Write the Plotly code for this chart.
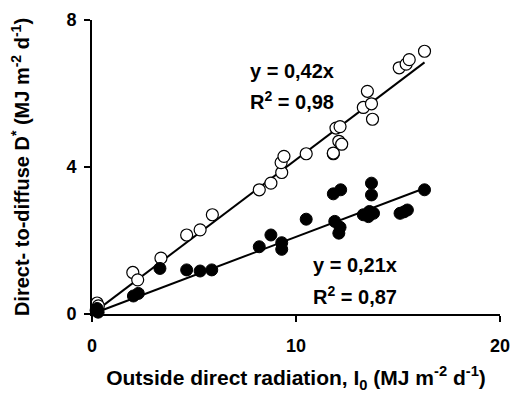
import plotly.graph_objects as go

# Open circles (upper series)
open_x = [0.25, 0.31, 2.0, 2.24, 3.38, 4.64, 5.3, 5.9, 8.2, 8.77, 9.3, 9.27, 9.41, 10.5,
          11.83, 11.83, 11.96, 12.16, 12.1, 12.24, 13.3, 13.5, 13.7, 13.75, 15.06, 15.4, 15.55, 16.3]
open_y = [0.3, 0.22, 1.13, 0.93, 1.52, 2.15, 2.29, 2.7, 3.38, 3.56, 3.85, 4.12, 4.29, 4.36,
          4.36, 4.38, 5.06, 5.1, 4.7, 4.62, 5.62, 6.06, 5.72, 5.3, 6.7, 6.8, 6.92, 7.15]

# Filled circles (lower series)
filled_x = [0.2, 0.3, 0.25, 2.03, 2.27, 3.33, 4.64, 5.3, 5.87, 8.2, 8.77, 9.3, 9.3, 10.5,
            11.83, 12.19, 11.9, 12.16, 12.1, 13.3, 13.55, 13.6, 13.8, 13.7, 13.7, 15.1, 15.3, 15.46, 16.3]
filled_y = [0.1, 0.05, 0.15, 0.49, 0.56, 1.24, 1.2, 1.17, 1.2, 1.83, 2.15, 1.94, 1.76, 2.58,
            3.27, 3.38, 2.52, 2.36, 2.2, 2.7, 2.65, 2.79, 2.74, 3.24, 3.56, 2.74, 2.78, 2.83, 3.38]

slope_open = 0.42
slope_filled = 0.21
fit_x = [0.2, 16.3]

x_ticks = [0, 10, 20]
y_ticks = [0, 4, 8]

FONT = "Liberation Sans, Arial, sans-serif"

fig = go.Figure()
fig.add_trace(go.Scatter(x=fit_x, y=[slope_open * v for v in fit_x], mode="lines",
                         line=dict(color="black", width=2), showlegend=False, hoverinfo="skip"))
fig.add_trace(go.Scatter(x=fit_x, y=[slope_filled * v for v in fit_x], mode="lines",
                         line=dict(color="black", width=2), showlegend=False, hoverinfo="skip"))
fig.add_trace(go.Scatter(x=open_x, y=open_y, mode="markers", cliponaxis=False,
                         marker=dict(symbol="circle", size=12, color="white",
                                     line=dict(color="black", width=1.2)),
                         showlegend=False))
fig.add_trace(go.Scatter(x=filled_x, y=filled_y, mode="markers", cliponaxis=False,
                         marker=dict(symbol="circle", size=12, color="black",
                                     line=dict(color="black", width=1)),
                         showlegend=False))

L, R, T, B = 92, 16, 20, 80
W, H = 516, 394
pw, ph = W - L - R, H - T - B


def px2x(px):
    return (px - L) / pw * 20


def py2y(py):
    return (H - B - py) / ph * 8


ann_font = dict(family=FONT, size=20, color="black", weight="bold")
ann_text = ["y = 0,42x", "R<sup>2</sup> = 0,98", "y = 0,21x", "R<sup>2</sup> = 0,87"]
ann_px = [(292, 71), (292, 100), (355, 265), (355, 295)]
for t, (px, py) in zip(ann_text, ann_px):
    fig.add_annotation(x=px2x(px), y=py2y(py), text=t, showarrow=False, font=ann_font)

fig.update_layout(
    width=W, height=H,
    margin=dict(l=L, r=R, t=T, b=B),
    plot_bgcolor="white", paper_bgcolor="white",
    font=dict(family=FONT, size=18, color="black", weight="bold"),
    xaxis=dict(range=[0, 20], tickvals=x_ticks, showgrid=False, zeroline=False,
               showline=True, linecolor="black", linewidth=2, automargin=False,
               ticks="outside", ticklen=6, tickwidth=2, tickcolor="black",
               ticklabelstandoff=8,
               tickfont=dict(family=FONT, size=18, weight="bold"),
               title=dict(text="Outside direct radiation, I<sub>0</sub> (MJ m<sup>-2</sup> d<sup>-1</sup>)",
                          font=dict(family=FONT, size=21, weight="bold"), standoff=16)),
    yaxis=dict(range=[0, 8], tickvals=y_ticks, showgrid=False, zeroline=False,
               showline=True, linecolor="black", linewidth=2, automargin=False,
               ticks="outside", ticklen=6, tickwidth=2, tickcolor="black",
               ticklabelstandoff=4,
               tickfont=dict(family=FONT, size=18, weight="bold"),
               title=dict(text="Direct- to-diffuse D<sup>*</sup> (MJ m<sup>-2</sup> d<sup>-1</sup>)",
                          font=dict(family=FONT, size=20, weight="bold"), standoff=31)),
)

fig.write_html("out.html")
